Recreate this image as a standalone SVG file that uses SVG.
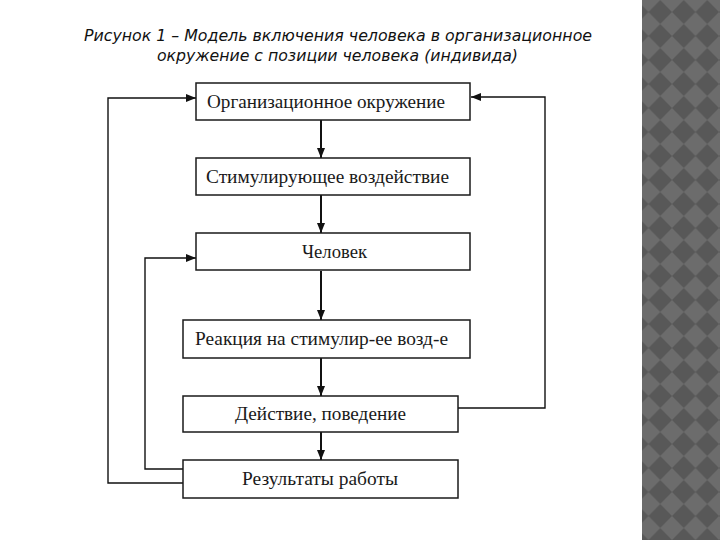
<svg xmlns="http://www.w3.org/2000/svg" width="720" height="540" viewBox="0 0 720 540">
<style>
.box{fill:#fff;stroke:#1a1a1a;stroke-width:1.5}
.lbl{font-family:"Liberation Serif","Times New Roman",serif;font-size:19px;fill:#1a1a1a}
.ttl{font-family:"DejaVu Sans","Liberation Sans",sans-serif;font-style:italic;font-size:16px;fill:#111}
.con{fill:none;stroke:#111;stroke-width:1.4}
.main{fill:none;stroke:#111;stroke-width:2}
</style>
<defs>
<marker id="ah" markerUnits="userSpaceOnUse" markerWidth="10" markerHeight="10" viewBox="0 0 10 10" refX="10" refY="5" orient="auto">
<path d="M0,1 L10,5 L0,9 Z" fill="#111"/>
</marker>
<pattern id="chk" patternUnits="userSpaceOnUse" x="648.5" y="0" width="23.5" height="24">
<rect width="23.5" height="24" fill="#6c6c6c"/>
<path d="M11.75,0 L23.5,12 L11.75,24 L0,12 Z" fill="#585858"/>
</pattern>
</defs>
<rect width="720" height="540" fill="#fff"/>
<rect x="642" y="0" width="78" height="540" fill="url(#chk)"/>
<g id="title">
<text class="ttl" x="338" y="41" text-anchor="middle" textLength="508" lengthAdjust="spacingAndGlyphs">Рисунок 1 – Модель включения человека в организационное</text>
<text class="ttl" x="337.5" y="61" text-anchor="middle" textLength="361" lengthAdjust="spacingAndGlyphs">окружение с позиции человека (индивида)</text>
</g>
<g id="connectors">
<path class="main" d="M321,120 V158" marker-end="url(#ah)"/>
<path class="main" d="M321,195 V233" marker-end="url(#ah)"/>
<path class="main" d="M321,271 V320" marker-end="url(#ah)"/>
<path class="main" d="M321,358 V396" marker-end="url(#ah)"/>
<path class="main" d="M321,432 V460" marker-end="url(#ah)"/>
<path class="con" d="M183,483 H108 V98 H196" marker-end="url(#ah)"/>
<path class="con" d="M183,469 H145 V258 H196" marker-end="url(#ah)"/>
<path class="con" d="M458,408 H545 V97 H471" marker-end="url(#ah)"/>
</g>
<g id="n1"><rect class="box" x="196" y="83" width="274" height="37"/><text class="lbl" x="207" y="108" textLength="238" lengthAdjust="spacingAndGlyphs">Организационное окружение</text></g>
<g id="n2"><rect class="box" x="196" y="158" width="274" height="37"/><text class="lbl" x="206" y="183" textLength="243" lengthAdjust="spacingAndGlyphs">Стимулирующее воздействие</text></g>
<g id="n3"><rect class="box" x="196" y="233" width="274" height="37"/><text class="lbl" x="302" y="258" textLength="65" lengthAdjust="spacingAndGlyphs">Человек</text></g>
<g id="n4"><rect class="box" x="183" y="320" width="287" height="38"/><text class="lbl" x="195" y="345" textLength="253" lengthAdjust="spacingAndGlyphs">Реакция на стимулир-ее возд-е</text></g>
<g id="n5"><rect class="box" x="183" y="396" width="275" height="36"/><text class="lbl" x="235" y="420" textLength="171" lengthAdjust="spacingAndGlyphs">Действие, поведение</text></g>
<g id="n6"><rect class="box" x="183" y="460" width="275" height="38"/><text class="lbl" x="242" y="485" textLength="156" lengthAdjust="spacingAndGlyphs">Результаты работы</text></g>
</svg>
